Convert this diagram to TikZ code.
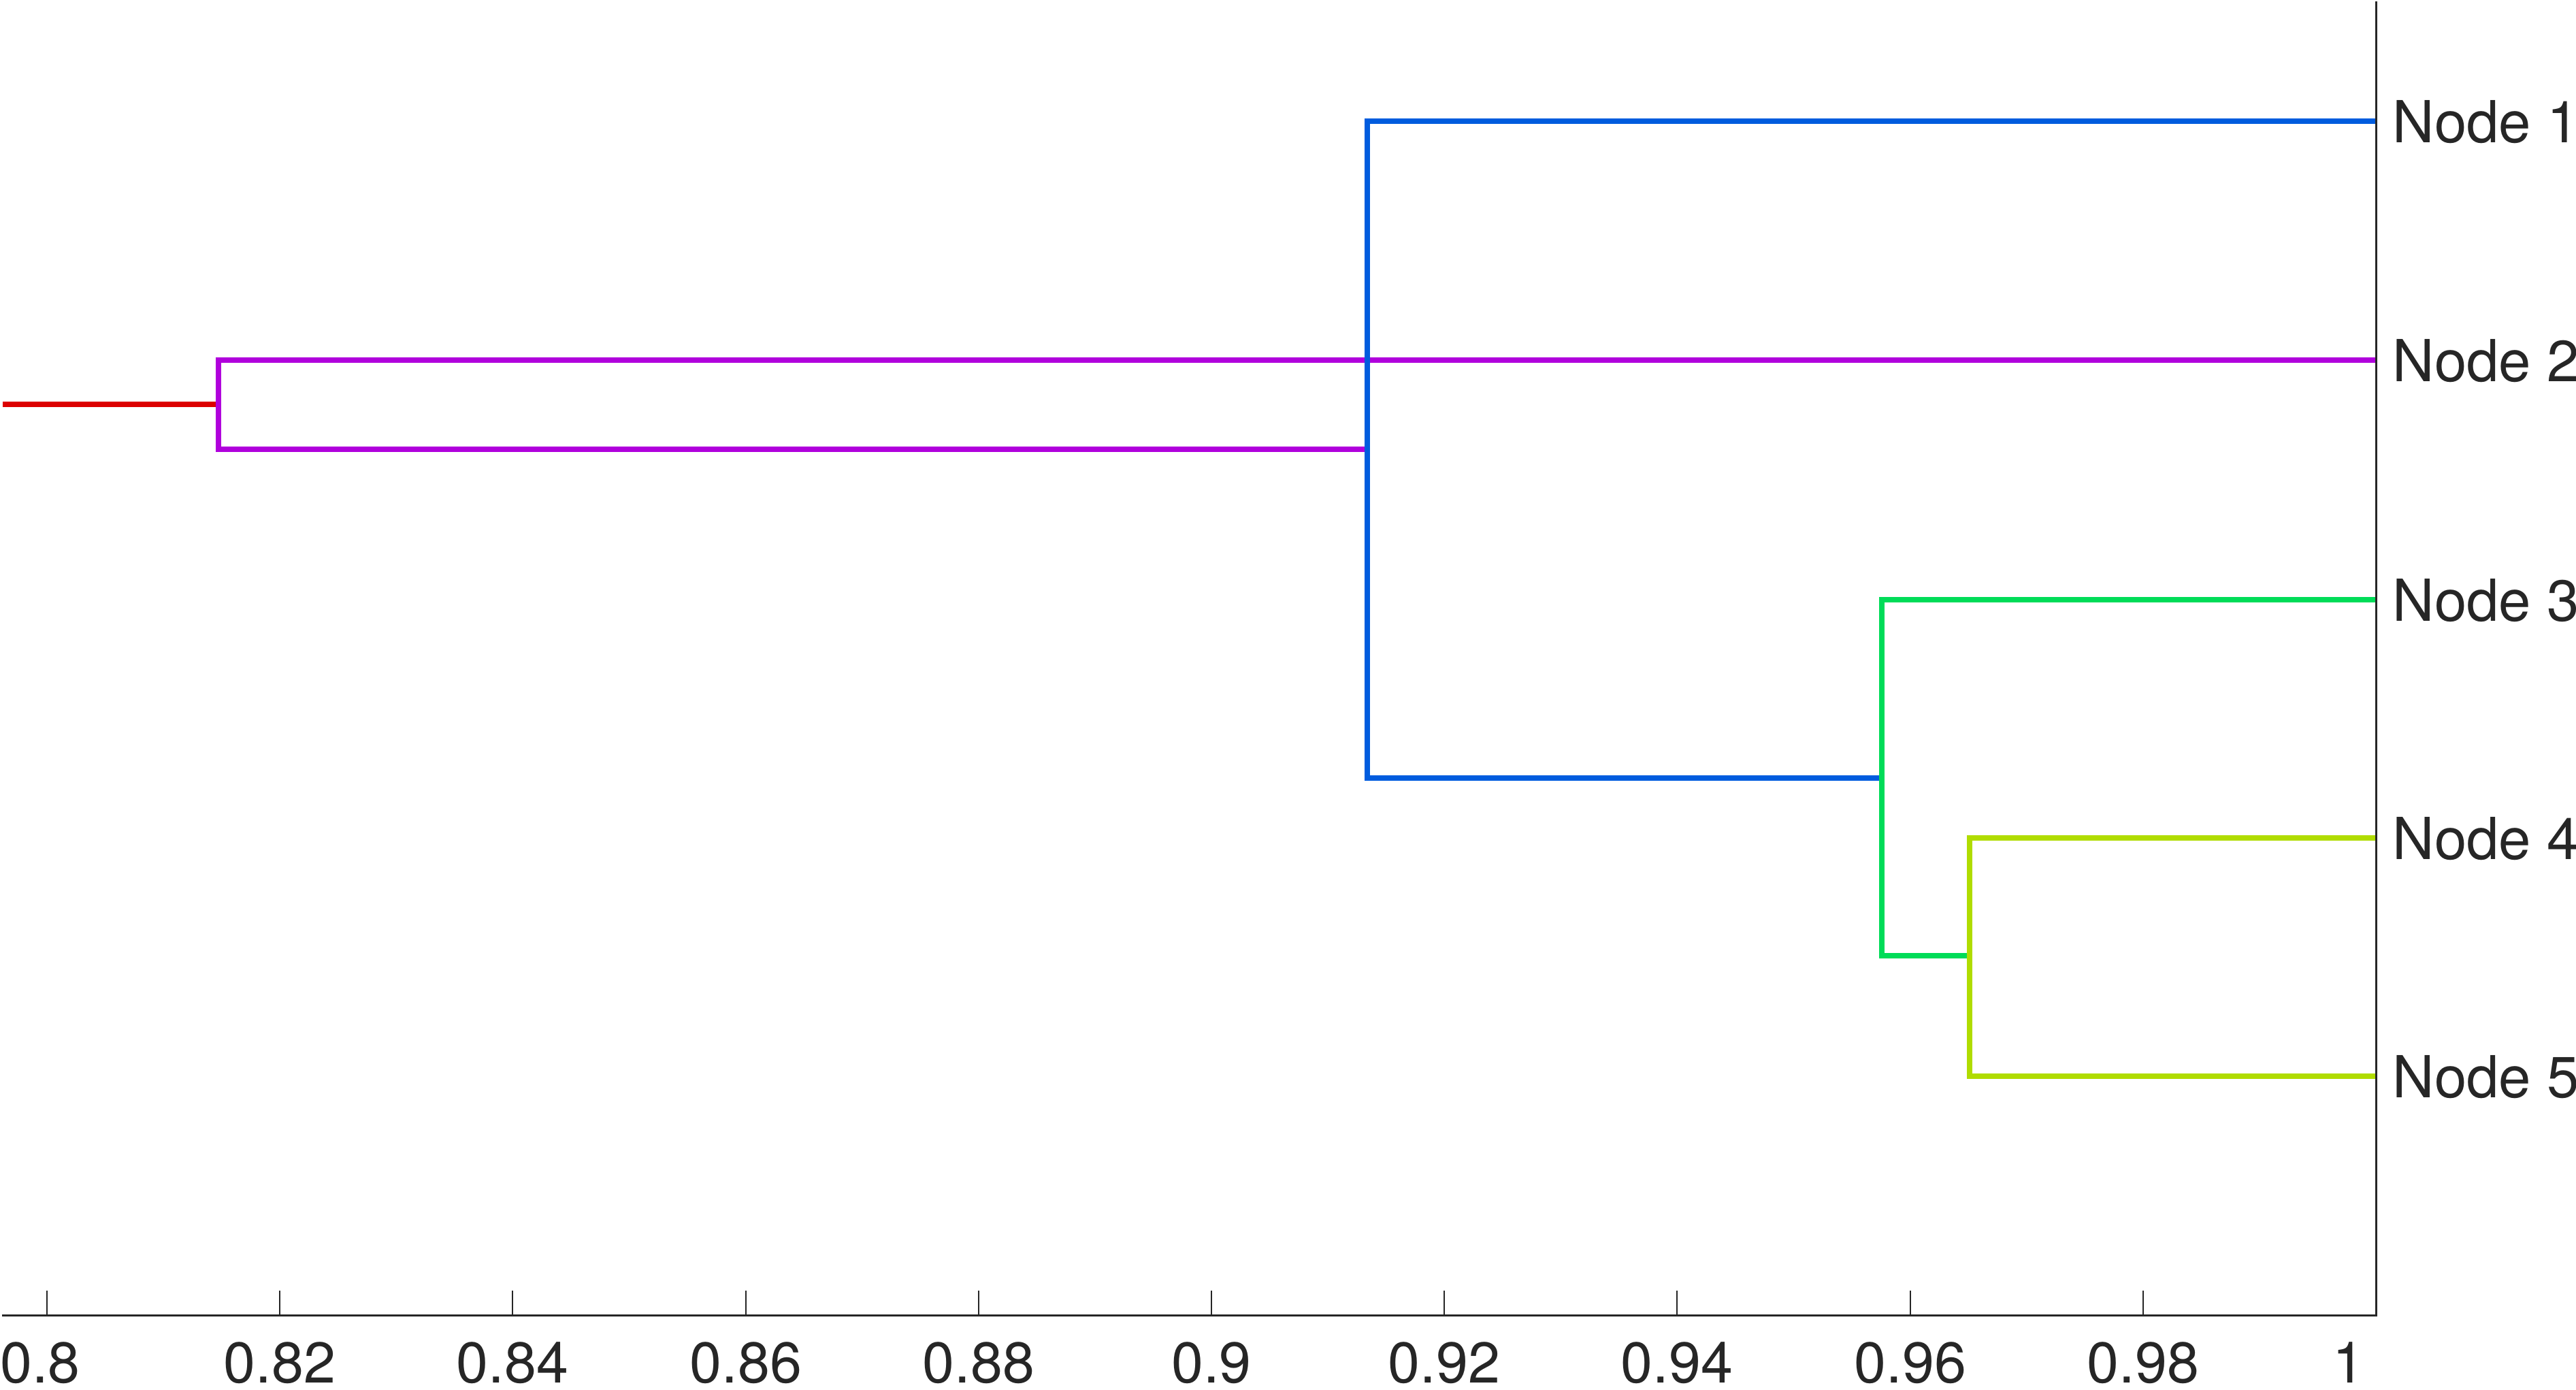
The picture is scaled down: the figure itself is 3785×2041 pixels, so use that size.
\documentclass[tikz,border=0pt]{standalone}
\usepackage{fontspec}
\setmainfont{TeX Gyre Heros}
\definecolor{axcol}{RGB}{38,38,38}
\definecolor{cred}{RGB}{220,0,0}
\definecolor{cpurple}{RGB}{176,0,220}
\definecolor{cblue}{RGB}{0,92,222}
\definecolor{cgreen}{RGB}{0,220,88}
\definecolor{clime}{RGB}{176,220,0}
\begin{document}
\begin{tikzpicture}[x=0.01cm,y=-0.01cm,
  link/.style={line width=2.3pt,line join=miter},
  axisline/.style={draw=axcol,line width=0.85pt},
  tickline/.style={draw=axcol,line width=0.55pt},
  ticklabel/.style={anchor=base,inner sep=0pt,text=axcol,font=\fontsize{24pt}{28pt}\selectfont},
  leaflabel/.style={anchor=west,inner sep=0pt,text=axcol,font=\fontsize{24.2pt}{28pt}\selectfont}]
\useasboundingbox (0,0) rectangle (3785,2041);
% leaf ends on the axis
\coordinate (e1) at (3491,178);
\coordinate (e2) at (3491,529);
\coordinate (e3) at (3491,881);
\coordinate (e4) at (3491,1231);
\coordinate (e5) at (3491,1581);
% merge points
\coordinate (m45) at (2894,1404);
\coordinate (m345) at (2765,1143);
\coordinate (m1345) at (2009,660);
\coordinate (mroot) at (321,594);
\coordinate (rootend) at (4,594);
% links
\draw[link,cred] (rootend) -- (mroot);
\draw[link,cpurple] (e2) -| (mroot) |- (m1345);
\draw[link,cblue] (e1) -| (m1345) |- (m345);
\draw[link,cgreen] (e3) -| (m345) |- (m45);
\draw[link,clime] (e4) -| (m45) |- (e5);
% axes
\coordinate (axtop) at (3491,2);
\coordinate (axcorner) at (3491,1932);
\coordinate (axleft) at (3,1932);
\draw[axisline] (axleft) -- (axcorner) -- (axtop);
% ticks
\foreach \i in {0,...,9} {
  \coordinate (tk\i) at ({69+342.2*\i},1932);
  \coordinate (tt\i) at ({69+342.2*\i},1896);
  \draw[tickline] (tk\i) -- (tt\i);
}
% tick labels
\node[ticklabel] (t0) at (59,2031) {0.8};
\node[ticklabel] (t1) at (411,2031) {0.82};
\node[ticklabel] (t2) at (753,2031) {0.84};
\node[ticklabel] (t3) at (1096,2031) {0.86};
\node[ticklabel] (t4) at (1438,2031) {0.88};
\node[ticklabel] (t5) at (1780,2031) {0.9};
\node[ticklabel] (t6) at (2122,2031) {0.92};
\node[ticklabel] (t7) at (2464,2031) {0.94};
\node[ticklabel] (t8) at (2807,2031) {0.96};
\node[ticklabel] (t9) at (3149,2031) {0.98};
\node[ticklabel] (t10) at (3451,2031) {1};
% leaf labels
\node[leaflabel] (n1) at (3515,179) {Node 1};
\node[leaflabel] (n2) at (3515,530) {Node 2};
\node[leaflabel] (n3) at (3515,882) {Node 3};
\node[leaflabel] (n4) at (3515,1232) {Node 4};
\node[leaflabel] (n5) at (3515,1582) {Node 5};
\end{tikzpicture}
\end{document}
